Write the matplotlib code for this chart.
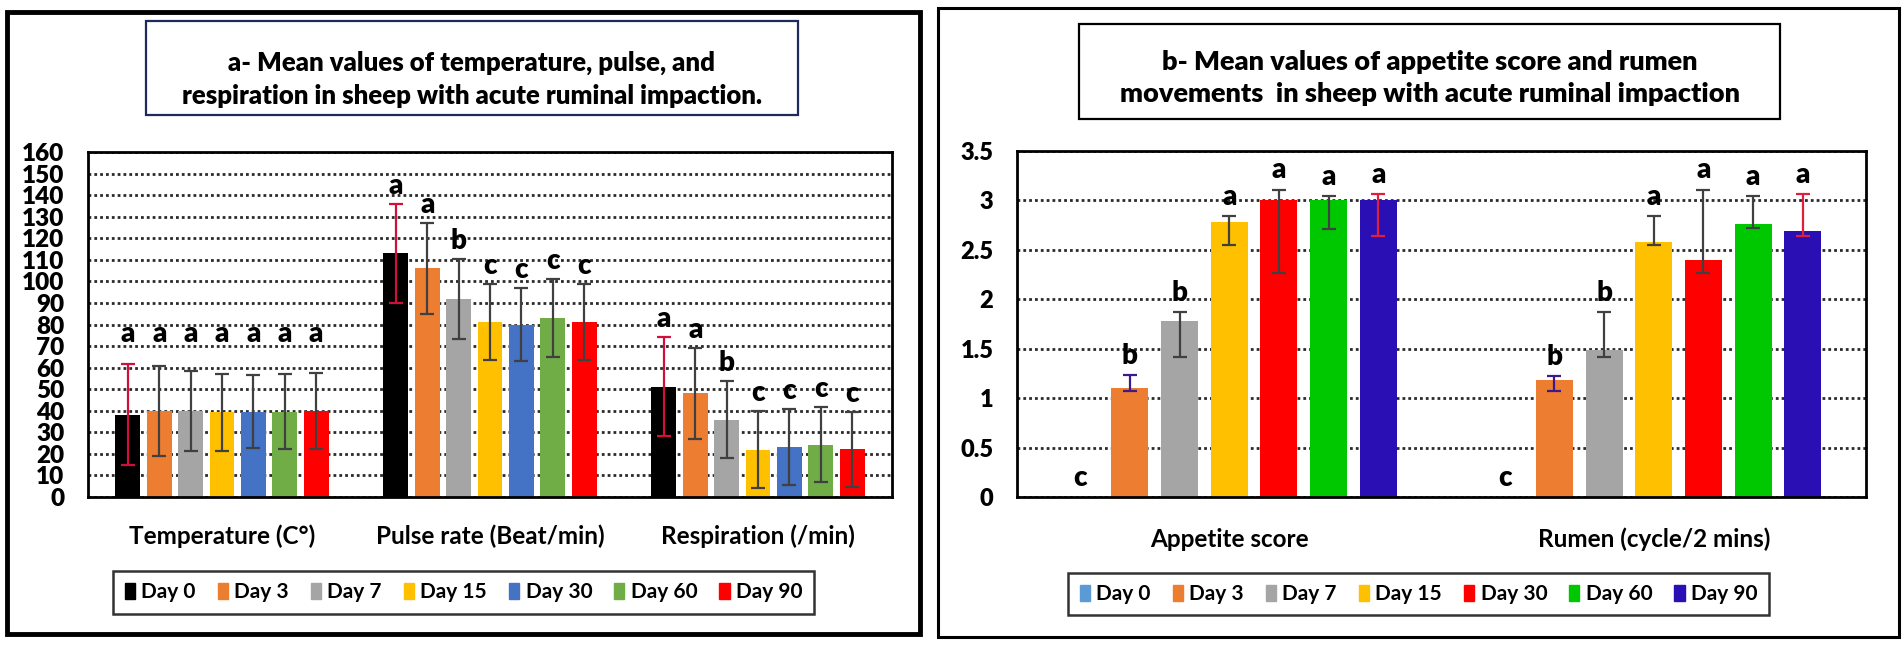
import numpy as np
import matplotlib
matplotlib.use("Agg")
import matplotlib.pyplot as plt
from matplotlib.patches import Rectangle, Patch

plt.rcParams['font.family'] = ['Lato', 'DejaVu Sans']

days = ['Day 0', 'Day 3', 'Day 7', 'Day 15', 'Day 30', 'Day 60', 'Day 90']

# panel a : temperature, pulse, respiration (rows = day, cols = parameter)
cats_a = ['Temperature (C°)', 'Pulse rate (Beat/min)', 'Respiration (/min)']
mean_a = [[38.2, 113.0, 51.2],
          [39.8, 106.1, 48.1],
          [39.8, 91.8, 35.9],
          [39.2, 81.1, 22.0],
          [39.6, 80.0, 23.2],
          [39.6, 82.9, 24.3],
          [39.8, 81.1, 22.1]]
err_a = [[23.3, 23.0, 23.0],
         [20.8, 21.0, 21.0],
         [18.6, 18.5, 18.0],
         [18.0, 17.5, 18.0],
         [16.8, 17.0, 17.5],
         [17.3, 18.0, 17.4],
         [17.6, 17.7, 17.5]]
letters_a = [['a', 'a', 'a'],
             ['a', 'a', 'a'],
             ['a', 'b', 'b'],
             ['a', 'c', 'c'],
             ['a', 'c', 'c'],
             ['a', 'c', 'c'],
             ['a', 'c', 'c']]

# panel b : appetite score and rumen movements
cats_b = ['Appetite score', 'Rumen (cycle/2 mins)']
mean_b = [[0.0, 0.0],
          [1.10, 1.18],
          [1.78, 1.49],
          [2.78, 2.58],
          [3.00, 2.40],
          [3.00, 2.76],
          [3.00, 2.69]]
err_lo_b = [[0.0, 0.0],
            [0.03, 0.11],
            [0.36, 0.07],
            [0.23, 0.03],
            [0.73, 0.13],
            [0.29, 0.04],
            [0.36, 0.05]]
err_hi_b = [[0.0, 0.0],
            [0.13, 0.04],
            [0.09, 0.38],
            [0.06, 0.26],
            [0.11, 0.71],
            [0.04, 0.28],
            [0.06, 0.37]]
letters_b = [['c', 'c'],
             ['b', 'b'],
             ['b', 'b'],
             ['a', 'a'],
             ['a', 'a'],
             ['a', 'a'],
             ['a', 'a']]

colors_a = ['#000000', '#ED7D31', '#A5A5A5', '#FFC000', '#4472C4', '#70AD47', '#FF0000']
colors_b = ['#5B9BD5', '#ED7D31', '#A5A5A5', '#FFC000', '#FF0000', '#00C800', '#2A0FB5']
ecol_a = ['#D0103A'] + ['#404040'] * 6
ecol_b = ['#404040', '#3A1A8C', '#404040', '#404040', '#404040', '#404040', '#E0203A']

W, H = 1902, 647
fig = plt.figure(figsize=(W / 100, H / 100), dpi=100)


def px_box(x0, y0, x1, y1):
    # pixel box (top-left origin) -> figure fraction rect
    return [x0 / W, 1 - y1 / H, (x1 - x0) / W, (y1 - y0) / H]


def frame(x0, y0, x1, y1, lw, ec='black'):
    l, b, w, h = px_box(x0, y0, x1, y1)
    fig.patches.append(Rectangle((l, b), w, h, transform=fig.transFigure,
                                 fill=False, edgecolor=ec, linewidth=lw))


def style_axes(ax, ymax, step, tick_size, xpad):
    ax.set_ylim(0, ymax)
    ax.set_yticks(np.arange(0, ymax + step / 2, step))
    ax.yaxis.grid(True, linestyle=(0, (1, 1.1)), color='#2a2a2a', linewidth=2.0)
    ax.set_axisbelow(True)
    ax.tick_params(axis='both', length=0)
    ax.tick_params(axis='y', pad=17, labelsize=tick_size)
    ax.tick_params(axis='x', pad=xpad, labelsize=17.5)
    for lab in ax.get_yticklabels():
        lab.set_fontweight('heavy')
    for lab in ax.get_xticklabels():
        lab.set_fontweight('bold')
    for s in ax.spines.values():
        s.set_linewidth(2.0)


def draw(ax, cats, means, lo, hi, letters, colors, ecols, width, pitch,
         row_letters, pads):
    x = np.arange(len(cats))
    means = np.array(means)
    lo = np.array(lo)
    hi = np.array(hi)
    handles = []
    for i, day in enumerate(days):
        xi = x + (i - 3) * pitch
        ax.bar(xi, means[i], width, color=colors[i], label=day)
        handles.append(Patch(color=colors[i], label=day))
        m = (lo[i] + hi[i]) > 0
        if m.any():
            ax.errorbar(xi[m], means[i][m], yerr=[lo[i][m], hi[i][m]], fmt='none',
                        ecolor=ecols[i], elinewidth=1.6, capsize=5, capthick=1.6)
    tops = means + hi
    for g in range(len(cats)):
        col = tops[:, g]
        for i in range(len(days)):
            base = col.max() if row_letters[g] else col[i]
            ax.annotate(letters[i][g], (x[g] + (i - 3) * pitch, base),
                        xytext=(0, pads[g]), textcoords='offset points',
                        ha='center', va='center', fontsize=20, fontweight='heavy')
    ax.set_xticks(x)
    ax.set_xticklabels(cats)
    ax.set_xlim(-0.5, len(cats) - 0.5)
    return handles


# outer panels
frame(7, 12, 920, 634, 3.5)
frame(938, 8, 1899, 637, 2.2)

# title boxes
frame(146, 21, 798, 115, 1.6, ec='#1F2A5A')
fig.text(472 / W, 1 - 79 / H,
         'a- Mean values of temperature, pulse, and\nrespiration in sheep with acute ruminal impaction.',
         ha='center', va='center', fontsize=18.5, fontweight='heavy', linespacing=1.45)
frame(1079, 24, 1780, 119, 1.6)
fig.text(1429.5 / W, 1 - 78 / H,
         'b- Mean values of appetite score and rumen\nmovements  in sheep with acute ruminal impaction',
         ha='center', va='center', fontsize=19.5, fontweight='heavy', linespacing=1.45)

# panel a
ax1 = fig.add_axes(px_box(88, 152, 892, 497))
h1 = draw(ax1, cats_a, mean_a, err_a, err_a, letters_a, colors_a, ecol_a,
          0.093, 0.117, [True, False, False], [22, 13, 13])
style_axes(ax1, 160, 10, 17.5, 20)

# panel b
ax2 = fig.add_axes(px_box(1017, 151, 1866, 497))
h2 = draw(ax2, cats_b, mean_b, err_lo_b, err_hi_b, letters_b, colors_b, ecol_b,
          0.087, 0.117, [False, False], [14, 14])
style_axes(ax2, 3.5, 0.5, 17, 22)
ax2.set_yticklabels(['0', '0.5', '1', '1.5', '2', '2.5', '3', '3.5'])

leg_kw = dict(ncol=7, loc='center', frameon=True, fancybox=False,
              handlelength=0.5, handleheight=0.8, handletextpad=0.3,
              columnspacing=1.05, borderpad=0.55, prop={'weight': 'bold', 'size': 15})
l1 = fig.legend(handles=h1, bbox_to_anchor=(463.5 / W, 1 - 592.5 / H), **leg_kw)
l2 = fig.legend(handles=h2, bbox_to_anchor=(1418.5 / W, 1 - 594 / H), **leg_kw)
for lg in (l1, l2):
    lg.get_frame().set_edgecolor('black')
    lg.get_frame().set_linewidth(1.8)

fig.savefig('out.png', dpi=100)
